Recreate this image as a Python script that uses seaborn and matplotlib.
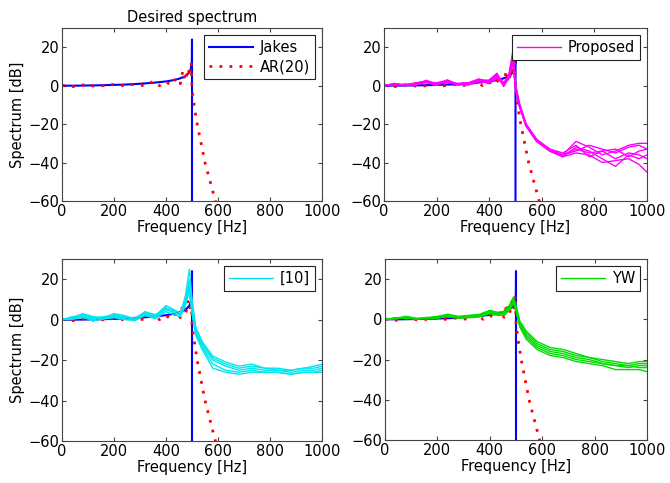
import numpy as np
import pandas as pd
import matplotlib
matplotlib.use("Agg")
import matplotlib.pyplot as plt
import seaborn as sns

# Jakes spectrum (desired), in dB
jakes_f = [0, 50, 100, 150, 200, 250, 300, 350, 400, 430, 450, 470, 480, 490, 495, 498, 499.5, 500, 500]
jakes_db = [0, 0.0, 0.1, 0.2, 0.4, 0.6, 1.0, 1.5, 2.2, 2.9, 3.6, 4.6, 5.5, 7.0, 8.5, 10.5, 12.5, 24, -65]

# AR(20) approximation
ar_f = [0, 25, 50, 75, 100, 125, 150, 175, 200, 225, 250, 275, 300, 325, 350, 375, 400,
        420, 440, 455, 465, 475, 485, 492, 497, 500, 510, 520, 535, 550, 570, 590, 610]
ar_db = [0.2, -0.3, -0.5, 0.3, 0.5, -0.4, -0.3, 0.8, 0.5, -0.1, 0.5, 0.6, 0.2, 0.0, 2.3, 0.0, 2.0,
         0.3, 4.0, 1.0, 8.0, 2.5, 9.0, 5.0, 12.0, -2, -12, -20, -30, -40, -50, -60, -70]

# frequency grid for the estimated spectra
f_grid = [0, 40, 80, 120, 160, 200, 240, 280, 320, 360, 400, 430, 455, 475, 490, 500,
          515, 540, 580, 630, 680, 730, 780, 830, 880, 930, 970, 1000]

# Proposed method, several runs
prop_1 = [0, 0.8, 0.3, 1.2, 2.5, 0.8, 2.5, 0.5, 1.0, 3.0, 2.5, 6.0, 1.0, 5.0, 16.0, 0.0,
          -10, -20, -28, -34, -36, -29, -32, -36, -34, -31, -30, -30]
prop_2 = [0, 1.2, 0.0, 0.8, 1.5, 0.3, 3.0, 0.8, 0.5, 2.0, 1.5, 5.0, 0.0, 4.0, 13.0, -2.0,
          -11, -21, -29, -34, -36, -33, -35, -34, -38, -35, -36, -38]
prop_3 = [0, 0.5, 0.8, 0.2, 2.8, 1.0, 1.5, 1.2, 1.5, 3.5, 2.0, 4.5, 0.5, 6.0, 18.0, 1.0,
          -9, -20, -28, -33, -35, -31, -37, -34, -33, -37, -34, -33]
prop_4 = [0, 0.3, 0.5, 1.0, 2.0, 0.5, 2.0, 0.2, 0.8, 2.5, 3.0, 6.5, -0.5, 4.5, 14.0, -1.0,
          -10, -21, -28, -34, -37, -35, -36, -40, -39, -38, -41, -45]
prop_5 = [0, 1.0, 0.2, 0.5, 1.8, 1.5, 2.8, 0.6, 1.2, 3.2, 2.2, 5.5, 1.5, 5.5, 15.0, -0.5,
          -10, -20, -28, -33, -36, -34, -31, -33, -35, -32, -31, -33]
prop_6 = [0, 0.6, 0.4, 1.5, 2.2, 0.2, 2.2, 1.0, 0.3, 2.8, 1.0, 4.0, 0.8, 3.5, 12.0, -1.5,
          -11, -21, -29, -34, -37, -32, -34, -38, -42, -36, -38, -36]

# method [10], several runs
ref10_1 = [0, 1.0, 3.0, 1.5, 1.0, 3.0, 2.0, 0.5, 4.0, 2.0, 7.0, 5.0, 3.0, 12.0, 25.0, 10.0,
           -4, -11, -18, -21, -23, -22, -24, -24, -25, -24, -23, -22]
ref10_2 = [0, 0.5, 2.5, 1.0, 0.5, 2.5, 1.5, 0.0, 3.0, 1.5, 6.0, 4.0, 2.0, 10.0, 20.0, 8.0,
           -5, -12, -19, -22, -24, -23, -24, -25, -25, -24, -24, -23]
ref10_3 = [0, 1.5, 2.0, 0.5, 1.5, 2.0, 1.0, 0.8, 3.5, 2.5, 5.5, 4.5, 3.5, 9.0, 18.0, 6.0,
           -6, -13, -20, -23, -25, -24, -25, -25, -26, -25, -25, -24]
ref10_4 = [0, 0.8, 1.5, 0.0, 1.0, 1.5, 0.5, -0.5, 2.5, 1.0, 5.0, 3.5, 2.5, 8.0, 16.0, 4.0,
           -7, -14, -22, -25, -26, -25, -26, -26, -27, -26, -26, -25]
ref10_5 = [0, 0.2, 1.0, -0.5, 0.3, 1.0, 0.0, -0.3, 2.0, 0.5, 4.0, 2.5, 1.5, 7.0, 14.0, 3.0,
           -8, -15, -24, -26, -27, -26, -26, -26, -27, -26, -26, -26]

# Yule-Walker, several runs
yw_1 = [0, 0.5, 1.5, 0.5, 0.8, 1.5, 2.5, 1.5, 2.0, 2.5, 4.5, 3.5, 4.0, 7.0, 11.0, 7.0,
        -1, -6, -11, -14, -15, -17, -19, -20, -21, -22, -21, -21]
yw_2 = [0, 0.2, 1.0, 0.2, 0.5, 1.0, 2.0, 1.0, 1.5, 2.0, 4.0, 3.0, 3.0, 6.0, 10.0, 6.0,
        -2, -7, -12, -15, -16, -18, -19, -21, -22, -23, -22, -22]
yw_3 = [0, 0.8, 0.8, 0.0, 1.0, 0.5, 1.5, 0.5, 1.0, 1.5, 3.5, 2.5, 3.5, 5.5, 9.0, 5.0,
        -3, -8, -13, -16, -17, -19, -20, -22, -23, -24, -23, -23]
yw_4 = [0, 0.3, 1.2, 0.4, 0.2, 0.8, 1.8, 0.8, 1.2, 1.8, 3.0, 2.8, 2.5, 5.0, 8.5, 4.5,
        -3.5, -9, -14, -17, -18, -20, -21, -22, -23, -23, -24, -24]
yw_5 = [0, 0.6, 0.5, 0.2, 0.6, 1.2, 1.2, 1.2, 0.8, 1.2, 2.8, 2.0, 2.0, 4.5, 8.0, 4.0,
        -4, -10, -15, -18, -19, -21, -22, -23, -25, -25, -25, -26]


def runs_frame(runs):
    rows = []
    for i, r in enumerate(runs):
        rows.append(pd.DataFrame({"f": f_grid, "db": r, "run": i}))
    return pd.concat(rows, ignore_index=True)


plt.rcParams["font.family"] = ["DejaVu Sans"]
plt.rcParams["font.size"] = 10
fig = plt.figure(figsize=(6.7, 4.83), dpi=100)

W, H = 670, 483
boxes = [(62, 28, 322, 201), (384, 28, 647, 201), (62, 259, 322, 441), (385, 259, 647, 440)]
axes = [fig.add_axes([l / W, 1 - b / H, (r - l) / W, (b - t) / H]) for l, t, r, b in boxes]

methods = [None,
           ("Proposed", "#ff00ff", [prop_1, prop_2, prop_3, prop_4, prop_5, prop_6]),
           ("[10]", "#00e5ee", [ref10_1, ref10_2, ref10_3, ref10_4, ref10_5]),
           ("YW", "#00dd00", [yw_1, yw_2, yw_3, yw_4, yw_5])]

leg_kw = dict(loc="upper right", handlelength=3.0, handletextpad=0.5, fancybox=False,
              framealpha=1, borderaxespad=0.45, borderpad=0.35, labelspacing=0.3,
              fontsize=10.5)

for k, ax in enumerate(axes):
    sns.lineplot(x=jakes_f, y=jakes_db, ax=ax, color="#0000ff", lw=1.5, sort=False,
                 estimator=None, label="Jakes" if k == 0 else None)
    sns.lineplot(x=ar_f, y=ar_db, ax=ax, color="#ff0000", lw=2.0, sort=False,
                 estimator=None, linestyle=(0, (1, 2.6)), label="AR(20)" if k == 0 else None)
    if methods[k] is not None:
        name, col, runs = methods[k]
        df = runs_frame(runs)
        sns.lineplot(data=df, x="f", y="db", units="run", estimator=None, ax=ax,
                     color=col, lw=1.0, sort=False, legend=False)
        h = plt.Line2D([], [], color=col, lw=1.0)
        leg = ax.legend([h], [name], **leg_kw)
    else:
        leg = ax.legend(**leg_kw)
    leg.get_frame().set_edgecolor("#222222")
    leg.get_frame().set_linewidth(0.8)

    ax.set_xlim(0, 1000)
    ax.set_ylim(-60, 30)
    ax.set_xticks([0, 200, 400, 600, 800, 1000])
    ax.set_yticks([-60, -40, -20, 0, 20])
    ax.set_yticklabels(["\u221260", "\u221240", "\u221220", "0", "20"])
    ax.tick_params(direction="in", top=True, right=True, length=3, labelsize=10.5,
                   color="#444444", pad=2)
    for s in ax.spines.values():
        s.set_color("#444444")
        s.set_linewidth(0.8)
    ax.set_xlabel("Frequency [Hz]", fontsize=10.5, labelpad=1)
    if k in (0, 2):
        ax.set_ylabel("Spectrum [dB]", fontsize=10.5, labelpad=2)
    else:
        ax.set_ylabel("")

axes[0].set_title("Desired spectrum", fontsize=10.5, pad=4)

fig.savefig("out.png", dpi=100)
